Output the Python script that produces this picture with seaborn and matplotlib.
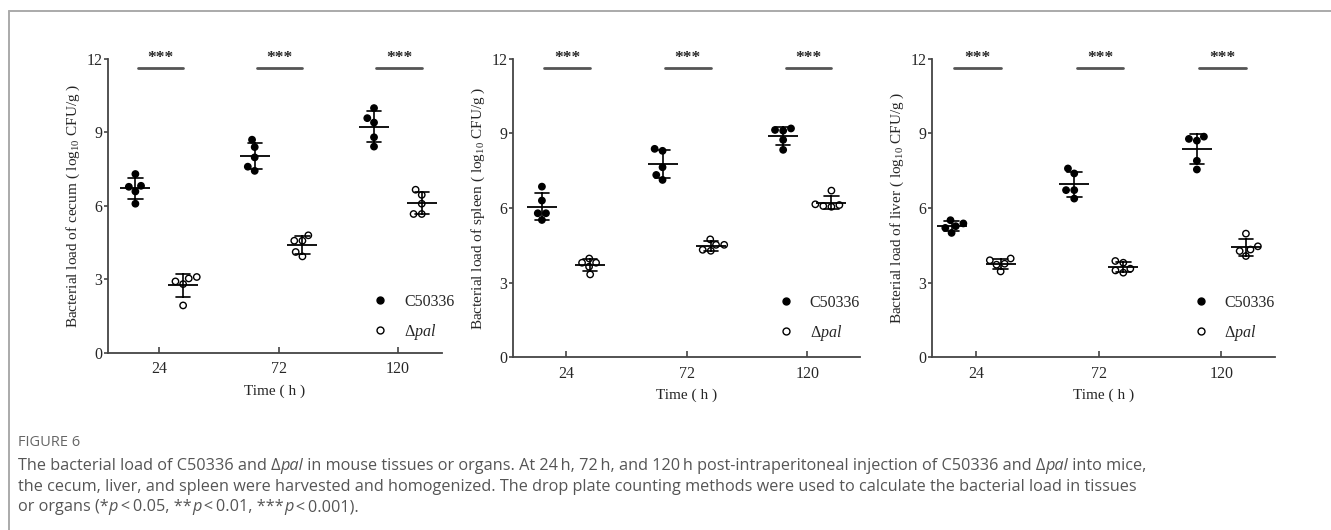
import matplotlib
matplotlib.use('Agg')
import matplotlib.pyplot as plt
from matplotlib.lines import Line2D
import pandas as pd
import seaborn as sns

# Data (log10 CFU/g, five mice per group)
times = ['24', '72', '120']
strains = ['C50336', 'dpal']

cecum_c50336 = [[7.30, 6.82, 6.78, 6.59, 6.09], [8.70, 8.40, 7.98, 7.60, 7.43], [9.99, 9.58, 9.40, 8.80, 8.42]]
cecum_dpal = [[3.10, 3.04, 2.92, 2.81, 1.94], [4.80, 4.58, 4.58, 4.12, 3.94], [6.66, 6.45, 6.09, 5.67, 5.67]]
spleen_c50336 = [[6.86, 6.30, 5.79, 5.79, 5.52], [8.38, 8.30, 7.64, 7.33, 7.13], [9.20, 9.14, 9.11, 8.74, 8.34]]
spleen_dpal = [[3.97, 3.80, 3.80, 3.64, 3.33], [4.74, 4.52, 4.52, 4.32, 4.28], [6.70, 6.15, 6.12, 6.08, 6.05]]
liver_c50336 = [[5.51, 5.38, 5.27, 5.20, 5.00], [7.59, 7.39, 6.72, 6.72, 6.38], [8.87, 8.78, 8.71, 7.90, 7.55]]
liver_dpal = [[3.97, 3.90, 3.76, 3.72, 3.45], [3.87, 3.80, 3.56, 3.49, 3.40], [4.97, 4.46, 4.33, 4.27, 4.07]]

organs = ['cecum', 'spleen', 'liver']
significance = ['***', '***', '***']


def make_df(wt, dp):
    rows = []
    for t, a, b in zip(times, wt, dp):
        rows += [(t, 'C50336', v) for v in a]
        rows += [(t, 'dpal', v) for v in b]
    return pd.DataFrame(rows, columns=['time', 'strain', 'load'])


sns.set_style('ticks')
plt.rcParams['font.family'] = ['Liberation Serif', 'DejaVu Serif']
plt.rcParams['mathtext.fontset'] = 'custom'
plt.rcParams['mathtext.rm'] = 'Liberation Serif'
plt.rcParams['mathtext.it'] = 'Liberation Serif:italic'

fig = plt.figure(figsize=(13.31, 5.30), dpi=100)

panels = [
    (cecum_c50336, cecum_dpal, [0.0811, 0.334, 0.251, 0.555], (-0.43, 2.37), (1.08, -0.01)),
    (spleen_c50336, spleen_dpal, [0.3854, 0.326, 0.261, 0.563], (-0.44, 2.44), (1.04, 0.0)),
    (liver_c50336, liver_dpal, [0.7002, 0.326, 0.258, 0.563], (-0.36, 2.44), (1.04, 0.0)),
]

axis_col = '#444444'
for organ, (wt, dp, rect, xl, leg_anchor) in zip(organs, panels):
    ax = fig.add_axes(rect)
    df = make_df(wt, dp)
    sns.swarmplot(data=df, x='time', y='load', hue='strain', order=times, hue_order=strains,
                  dodge=True, palette={'C50336': 'black', 'dpal': 'white'}, edgecolor='black',
                  linewidth=1.0, size=4.6, legend=False, ax=ax, zorder=2)
    sns.pointplot(data=df, x='time', y='load', hue='strain', order=times, hue_order=strains,
                  dodge=0.4, errorbar='sd', capsize=0.12, linestyle='none', markers='_',
                  markersize=22, markeredgewidth=1.3, palette=['black', 'black'],
                  err_kws={'linewidth': 1.2}, legend=False, ax=ax, zorder=3)
    ax.set_ylim(0, 12)
    ax.set_xlim(*xl)
    ax.set_yticks([0, 3, 6, 9, 12])
    sns.despine(ax=ax)
    for s in ['left', 'bottom']:
        ax.spines[s].set_color(axis_col)
        ax.spines[s].set_linewidth(1.3)
    ax.tick_params(axis='y', direction='out', length=3, width=1.2, color=axis_col, labelsize=11.5, pad=1)
    ax.tick_params(axis='x', direction='in', length=4, width=1.2, color=axis_col, labelsize=11.5, pad=6)
    ax.set_xlabel('Time ( h )', fontsize=11, labelpad=5)
    ax.set_ylabel('Bacterial load of %s ( log$_{10}$ CFU/g )' % organ, fontsize=11, labelpad=3)

    for i, star in enumerate(significance):
        ax.plot([i - 0.18, i + 0.2], [11.62, 11.62], color='#555555', lw=2, clip_on=False)
        ax.text(i + 0.01, 11.7, star, ha='center', va='bottom', fontsize=12.5,
                fontweight='bold', clip_on=False)

    handles = [Line2D([], [], ls='none', marker='o', ms=5, mfc='black', mec='black'),
               Line2D([], [], ls='none', marker='o', ms=5, mfc='white', mec='black', mew=1)]
    ax.legend(handles, ['C50336', r'$\Delta\mathit{pal}$'], loc='lower right',
              bbox_to_anchor=leg_anchor, frameon=False, fontsize=11.5,
              handletextpad=0.5, labelspacing=0.75)

# outer frame of the figure panel
fig.add_artist(Line2D([9 / 1331, 1], [1 - 11 / 530, 1 - 11 / 530], color='#aaaaaa', lw=1.4))
fig.add_artist(Line2D([9 / 1331, 9 / 1331], [0, 1 - 11 / 530], color='#aaaaaa', lw=1.4))

# caption
cap_font = ['Open Sans', 'DejaVu Sans']
cap_col = '#555555'
fig.text(18 / 1331, 1 - 443 / 530, 'FIGURE 6', family=cap_font, fontsize=10.5,
         color='#666666', va='center')

renderer = fig.canvas.get_renderer()


def rich_line(y, parts):
    x = 18 / 1331
    for s, style in parts:
        t = fig.text(x, 1 - y / 530, s, family=cap_font, style=style, fontsize=11.7,
                     color=cap_col, va='center')
        x += t.get_window_extent(renderer=renderer).width / fig.bbox.width


rich_line(466, [('The bacterial load of C50336 and \u0394', 'normal'), ('pal', 'italic'),
                (' in mouse tissues or organs. At 24\u2009h, 72\u2009h, and 120\u2009h post-intraperitoneal '
                 'injection of C50336 and \u0394', 'normal'), ('pal', 'italic'), (' into mice,', 'normal')])
rich_line(487, [('the cecum, liver, and spleen were harvested and homogenized. The drop plate counting '
                 'methods were used to calculate the bacterial load in tissues', 'normal')])
rich_line(507, [('or organs (*', 'normal'), ('p', 'italic'), ('\u2009<\u20090.05, **', 'normal'),
                ('p', 'italic'), ('\u2009<\u20090.01, ***', 'normal'), ('p', 'italic'),
                ('\u2009<\u20090.001).', 'normal')])

fig.savefig('out.png', dpi=100)
